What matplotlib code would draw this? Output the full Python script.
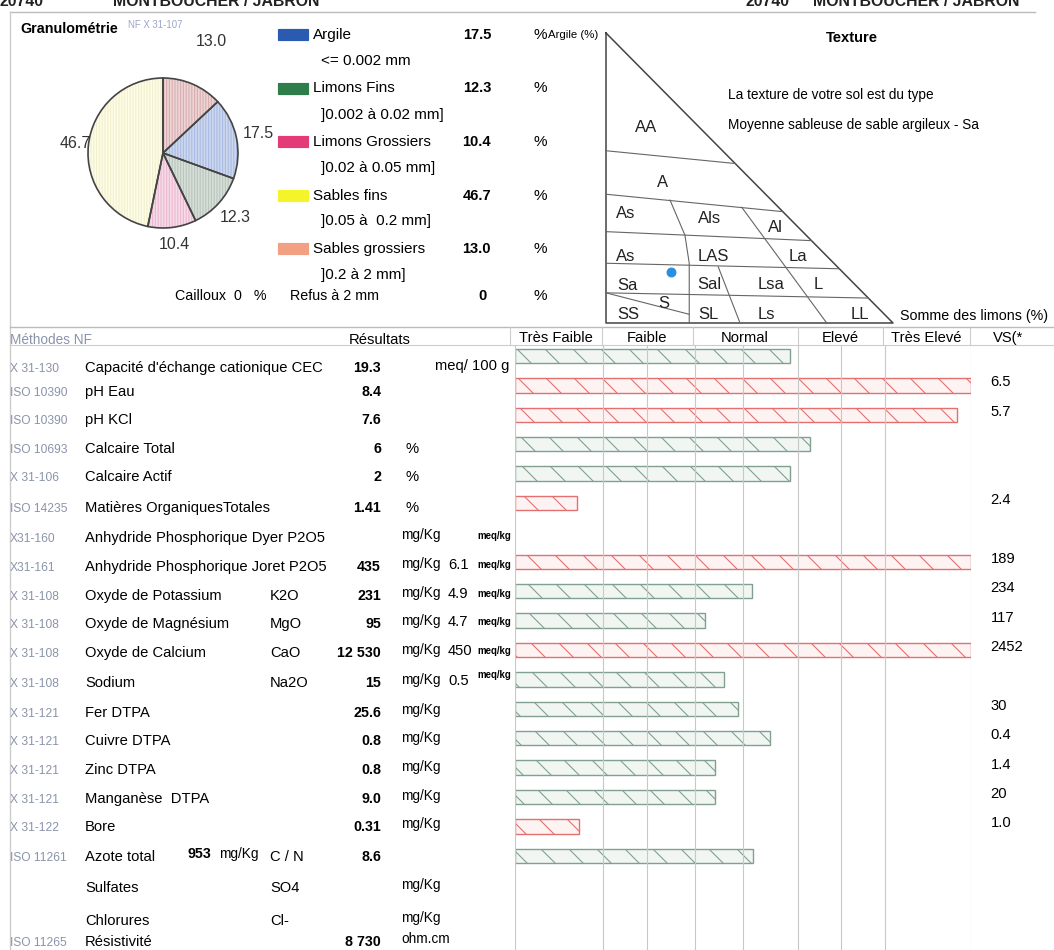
import matplotlib
matplotlib.use("Agg")
import matplotlib.pyplot as plt
from matplotlib import font_manager
from matplotlib.patches import Rectangle
import numpy as np

# --- fonts: the report uses a narrow Arial, take Liberation Sans Narrow if we have it
names = {f.name for f in font_manager.fontManager.ttflist}
if "Liberation Sans Narrow" in names:
    NARROW, SCALE = "Liberation Sans Narrow", 1.0
else:
    NARROW, SCALE = "Liberation Sans", 0.82
REG = "Liberation Sans"

# drawn at 84 dpi so the hatch stripes get the spacing of the scan; sizes below are
# given as if at 100 dpi and rescaled by K
DPI = 84
K = 100 / DPI
plt.rcParams["hatch.linewidth"] = 0.8 * K

# --- granulometrie data (legend order)
fractions = ["Argile", "Limons Fins", "Limons Grossiers", "Sables fins", "Sables grossiers"]
fraction_ranges = ["<= 0.002 mm", "]0.002 à 0.02 mm]", "]0.02 à 0.05 mm]", "]0.05 à  0.2 mm]", "]0.2 à 2 mm]"]
fraction_pct = [17.5, 12.3, 10.4, 46.7, 13.0]
legend_colors = ["#2b5bb0", "#2f7d4a", "#e33a78", "#f5f32a", "#f2a084"]
pie_colors = ["#cdd8ef", "#d6ded8", "#f8dbe8", "#fdfce6", "#eed5d5"]
pie_hatch_colors = ["#a9bbe2", "#b8c6bd", "#eab8cf", "#f3f0cf", "#d9aeb0"]
pie_order = [4, 0, 1, 2, 3]  # clockwise from 12 o'clock
pie_label_dist = [1.62, 1.30, 1.29, 1.23, 1.18]
cailloux = 0
refus = 0

# --- texture triangle (x = somme des limons %, y = argile %)
tri_lines = [
    [(0, 59.4), (45, 55)],
    [(0, 44.4), (61.6, 38.4)],
    [(0, 31.5), (71.6, 28.4)],
    [(0, 20.6), (81.3, 18.7)],
    [(0, 10.4), (91.4, 8.6)],
    [(0, 10.4), (29, 3.0)],
    [(22.3, 42.4), (27.5, 30.3), (29, 20.6), (29, 0)],
    [(47.3, 39.9), (76.9, 0)],
    [(39.1, 19.4), (46.7, 0)],
]
tri_classes = ["AA", "A", "As", "Als", "Al", "As", "LAS", "La", "Sa", "Sal", "Lsa", "L",
               "S", "SS", "SL", "Ls", "LL"]
tri_class_xy = [(14, 67.5), (19.6, 48.5), (7, 37.8), (36, 36.2), (59.2, 32.8), (7, 22.9),
                (37.4, 23.1), (66.9, 23.1), (7.4, 13.1), (36, 13.4), (57.4, 13.4), (74.1, 13.4),
                (20, 6.6), (7.8, 2.8), (35.7, 2.8), (56, 2.8), (88.5, 2.8)]
texture_name = "Moyenne sableuse de sable argileux - Sa"

# --- analyses table
methods = ["X 31-130", "ISO 10390", "ISO 10390", "ISO 10693", "X 31-106", "ISO 14235",
           "X31-160", "X31-161", "X 31-108", "X 31-108", "X 31-108", "X 31-108",
           "X 31-121", "X 31-121", "X 31-121", "X 31-121", "X 31-122", "ISO 11261",
           "", "", "ISO 11265"]
params = ["Capacité d'échange cationique CEC", "pH Eau", "pH KCl", "Calcaire Total",
          "Calcaire Actif", "Matières OrganiquesTotales", "Anhydride Phosphorique Dyer P2O5",
          "Anhydride Phosphorique Joret P2O5", "Oxyde de Potassium", "Oxyde de Magnésium",
          "Oxyde de Calcium", "Sodium", "Fer DTPA", "Cuivre DTPA", "Zinc DTPA",
          "Manganèse  DTPA", "Bore", "Azote total", "Sulfates", "Chlorures", "Résistivité"]
formulas = ["", "", "", "", "", "", "", "", "K2O", "MgO", "CaO", "Na2O", "", "", "", "", "",
            "C / N", "SO4", "Cl-", ""]
results = ["19.3", "8.4", "7.6", "6", "2", "1.41", "", "435", "231", "95", "12 530", "15",
           "25.6", "0.8", "0.8", "9.0", "0.31", "8.6", "", "", "8 730"]
units = ["meq/ 100 g", "", "", "%", "%", "%", "mg/Kg", "mg/Kg", "mg/Kg", "mg/Kg", "mg/Kg",
         "mg/Kg", "mg/Kg", "mg/Kg", "mg/Kg", "mg/Kg", "mg/Kg", "", "mg/Kg", "mg/Kg", "ohm.cm"]
meq = ["", "", "", "", "", "", "", "6.1", "4.9", "4.7", "450", "0.5", "", "", "", "", "", "",
       "", "", ""]
has_meq = [False] * 6 + [True] * 6 + [False] * 9
azote_total = "953"

# bar length (% of scale), None = no bar; alert = red bar
bar_len = [60.2, 100, 96.9, 64.8, 60.3, 13.7, None, 100, 51.9, 41.7, 100, 45.9, 48.8, 55.9,
           43.9, 43.9, 14.1, 52.1]
bar_alert = [False, True, True, False, False, True, False, True, False, False, True, False,
             False, False, False, False, True, False]
vs_vals = ["", "6.5", "5.7", "", "", "2.4", "", "189", "234", "117", "2452", "", "30", "0.4",
           "1.4", "20", "1.0", ""]
grid_x = [0, 19.4, 28.9, 39.5, 50.1, 62.0, 71.5, 81.1, 100]
classes = ["Très Faible", "Faible", "Normal", "Elevé", "Très Elevé", "VS(*"]

W, H = 1054, 950
fig = plt.figure(figsize=(W / DPI, H / DPI), dpi=DPI)
ax = fig.add_axes([0, 0, 1, 1])
ax.set_xlim(0, W)
ax.set_ylim(H, 0)
ax.axis("off")


def nt(x, y, s, size=13, **kw):
    kw.setdefault("va", "center")
    ax.text(x, y, s, fontsize=size * SCALE * K, family=NARROW, **kw)


def rt(x, y, s, size=11, **kw):
    kw.setdefault("va", "center")
    ax.text(x, y, s, fontsize=size * K, family=REG, **kw)


def box(l, t, w, h):
    return [l / W, 1 - (t + h) / H, w / W, h / H]


# page header, cut by the scan
for x, s in [(0, "20740"), (113, "MONTBOUCHER / JABRON"), (745, "20740"), (813, "MONTBOUCHER / JABRON")]:
    nt(x, 6, s, size=14, weight="bold", va="baseline", color="#222222")
ax.plot([10, 1035], [12, 12], color="#bbbbbb", lw=1 * K)
ax.plot([10, 10], [12, 950], color="#cccccc", lw=1 * K)

# granulometrie block
nt(20, 29, "Granulométrie", size=12.5, weight="bold")
nt(128, 25, "NF X 31-107", size=8.5, color="#9aa6c8")

axp = fig.add_axes(box(88, 78, 150, 150))
vals = [fraction_pct[i] for i in pie_order]
axp.pie(vals, colors=[pie_colors[i] for i in pie_order], startangle=90, counterclock=False,
        wedgeprops=dict(linewidth=0))
wedges, _ = axp.pie(vals, startangle=90, counterclock=False,
                    wedgeprops=dict(fill=False, linewidth=0, hatch="|||||"))
for w, i in zip(wedges, pie_order):
    w.set_edgecolor(pie_hatch_colors[i])
axp.pie(vals, startangle=90, counterclock=False,
        wedgeprops=dict(fill=False, edgecolor="#444444", linewidth=1.2 * K))
ang = 90.0
for v, d in zip(vals, pie_label_dist):
    mid = np.deg2rad(ang - v / sum(vals) * 180)
    axp.text(d * np.cos(mid), d * np.sin(mid), f"{v:.1f}", ha="center", va="center",
             fontsize=11.5 * K, family=REG, color="#333333")
    ang -= v / sum(vals) * 360
axp.set_xlim(-1, 1)
axp.set_ylim(-1, 1)
axp.set_aspect("equal")
axp.axis("off")

for k, (name, rng, pct, c) in enumerate(zip(fractions, fraction_ranges, fraction_pct, legend_colors)):
    y = 35 + 53.5 * k
    ax.add_patch(Rectangle((278, y - 6), 30, 11, color=c))
    rt(313, y, name, size=11)
    rt(321, y + 26, rng, size=11)
    rt(491, y, f"{pct:.1f}", size=10.5, weight="bold", ha="right")
    rt(533, y, "%", size=11)
nt(175, 296, f"Cailloux  {cailloux}   %", size=12.5)
nt(290, 296, "Refus à 2 mm", size=12.5)
rt(478, 296, str(refus), size=10.5, weight="bold")
rt(533, 296, "%", size=11)

# texture triangle
nt(548, 35, "Argile (%)", size=10)
axt = fig.add_axes(box(606, 33, 287, 290))
axt.set_xlim(0, 100)
axt.set_ylim(0, 100)
axt.axis("off")
axt.plot([0, 0, 100, 0], [100, 0, 0, 100], color="#444444", lw=1.1 * K, clip_on=False)
for line in tri_lines:
    xs, ys = zip(*line)
    axt.plot(xs, ys, color="#666666", lw=0.8 * K, clip_on=False)
for lab, (x, y) in zip(tri_classes, tri_class_xy):
    axt.text(x, y, lab, fontsize=12 * K, family=REG, ha="center", va="center", color="#222222")
limons = fraction_pct[1] + fraction_pct[2]
axt.scatter([limons], [fraction_pct[0]], s=40 * K * K, color="#2b8fe0", zorder=5, clip_on=False)
nt(852, 38, "Texture", size=13, weight="bold", ha="center")
nt(728, 95, "La texture de votre sol est du type", size=12)
nt(728, 125, texture_name, size=12)
nt(900, 316, "Somme des limons (%)", size=12.5)

# table header
ax.plot([10, 1054], [327, 327], color="#bbbbbb", lw=1 * K)
ax.plot([10, 1054], [345, 345], color="#cccccc", lw=0.8 * K)
nt(10, 340, "Méthodes NF", size=12, color="#8a94aa")
nt(380, 340, "Résultats", size=13, ha="center")
sep = [510, 601.7, 692.7, 797.7, 883, 970]
for x in sep:
    ax.plot([x, x], [327, 345], color="#cccccc", lw=0.8 * K)
centers = [556, 647, 745, 840, 926, 993]
for i, (c, lab) in enumerate(zip(centers, classes)):
    nt(c, 338, lab, size=13, ha="left" if i == 5 else "center")

row_y = [368, 392, 420, 449, 477, 508, 538, 567, 596, 624, 653, 683, 713, 741, 770, 799, 827,
         857, 888, 921, 942]
for i, y in enumerate(row_y):
    nt(10, y + 1, methods[i], size=10.5, color="#8a94aa")
    nt(85, y, params[i], size=13)
    nt(270, y, formulas[i], size=13)
    nt(381, y, results[i], size=12.5, weight="bold", ha="right")
    if units[i] == "%":
        nt(405, y, "%", size=13)
    elif units[i] == "meq/ 100 g":
        nt(435, y - 2, units[i], size=13)
    elif units[i]:
        nt(401, y - 3, units[i], size=12)
    if meq[i]:
        nt(448, y - 2, meq[i], size=13)
    if has_meq[i]:
        nt(477, y - (8 if i == 11 else 2), "meq/kg", size=8.5, weight="bold")
nt(187, row_y[17] - 3, azote_total, size=12.5, weight="bold")
nt(219, row_y[17] - 3, "mg/Kg", size=12)

# level bars
axb = fig.add_axes(box(515, 345, 456, 605))
top = (345 - 356) / 29.4
bottom = (950 - 356) / 29.4
axb.set_xlim(0, 100)
axb.set_ylim(bottom, top)
axb.axis("off")
for x in grid_x:
    axb.axvline(x, color="#c8c8c8", lw=0.8 * K, zorder=3)
for i, (v, red) in enumerate(zip(bar_len, bar_alert)):
    if v is None:
        continue
    axb.barh(i, v, height=0.49, left=0, color="#fdf3f3" if red else "#f1f6f3",
             edgecolor="#e27070" if red else "#82a090", hatch="\\", linewidth=1 * K, zorder=2)
for i, s in enumerate(vs_vals):
    if s:
        axb.text(104.3, i - 0.1, s, fontsize=13 * SCALE * K, family=NARROW, va="center",
                 clip_on=False)

fig.savefig("out.png", dpi=DPI)
